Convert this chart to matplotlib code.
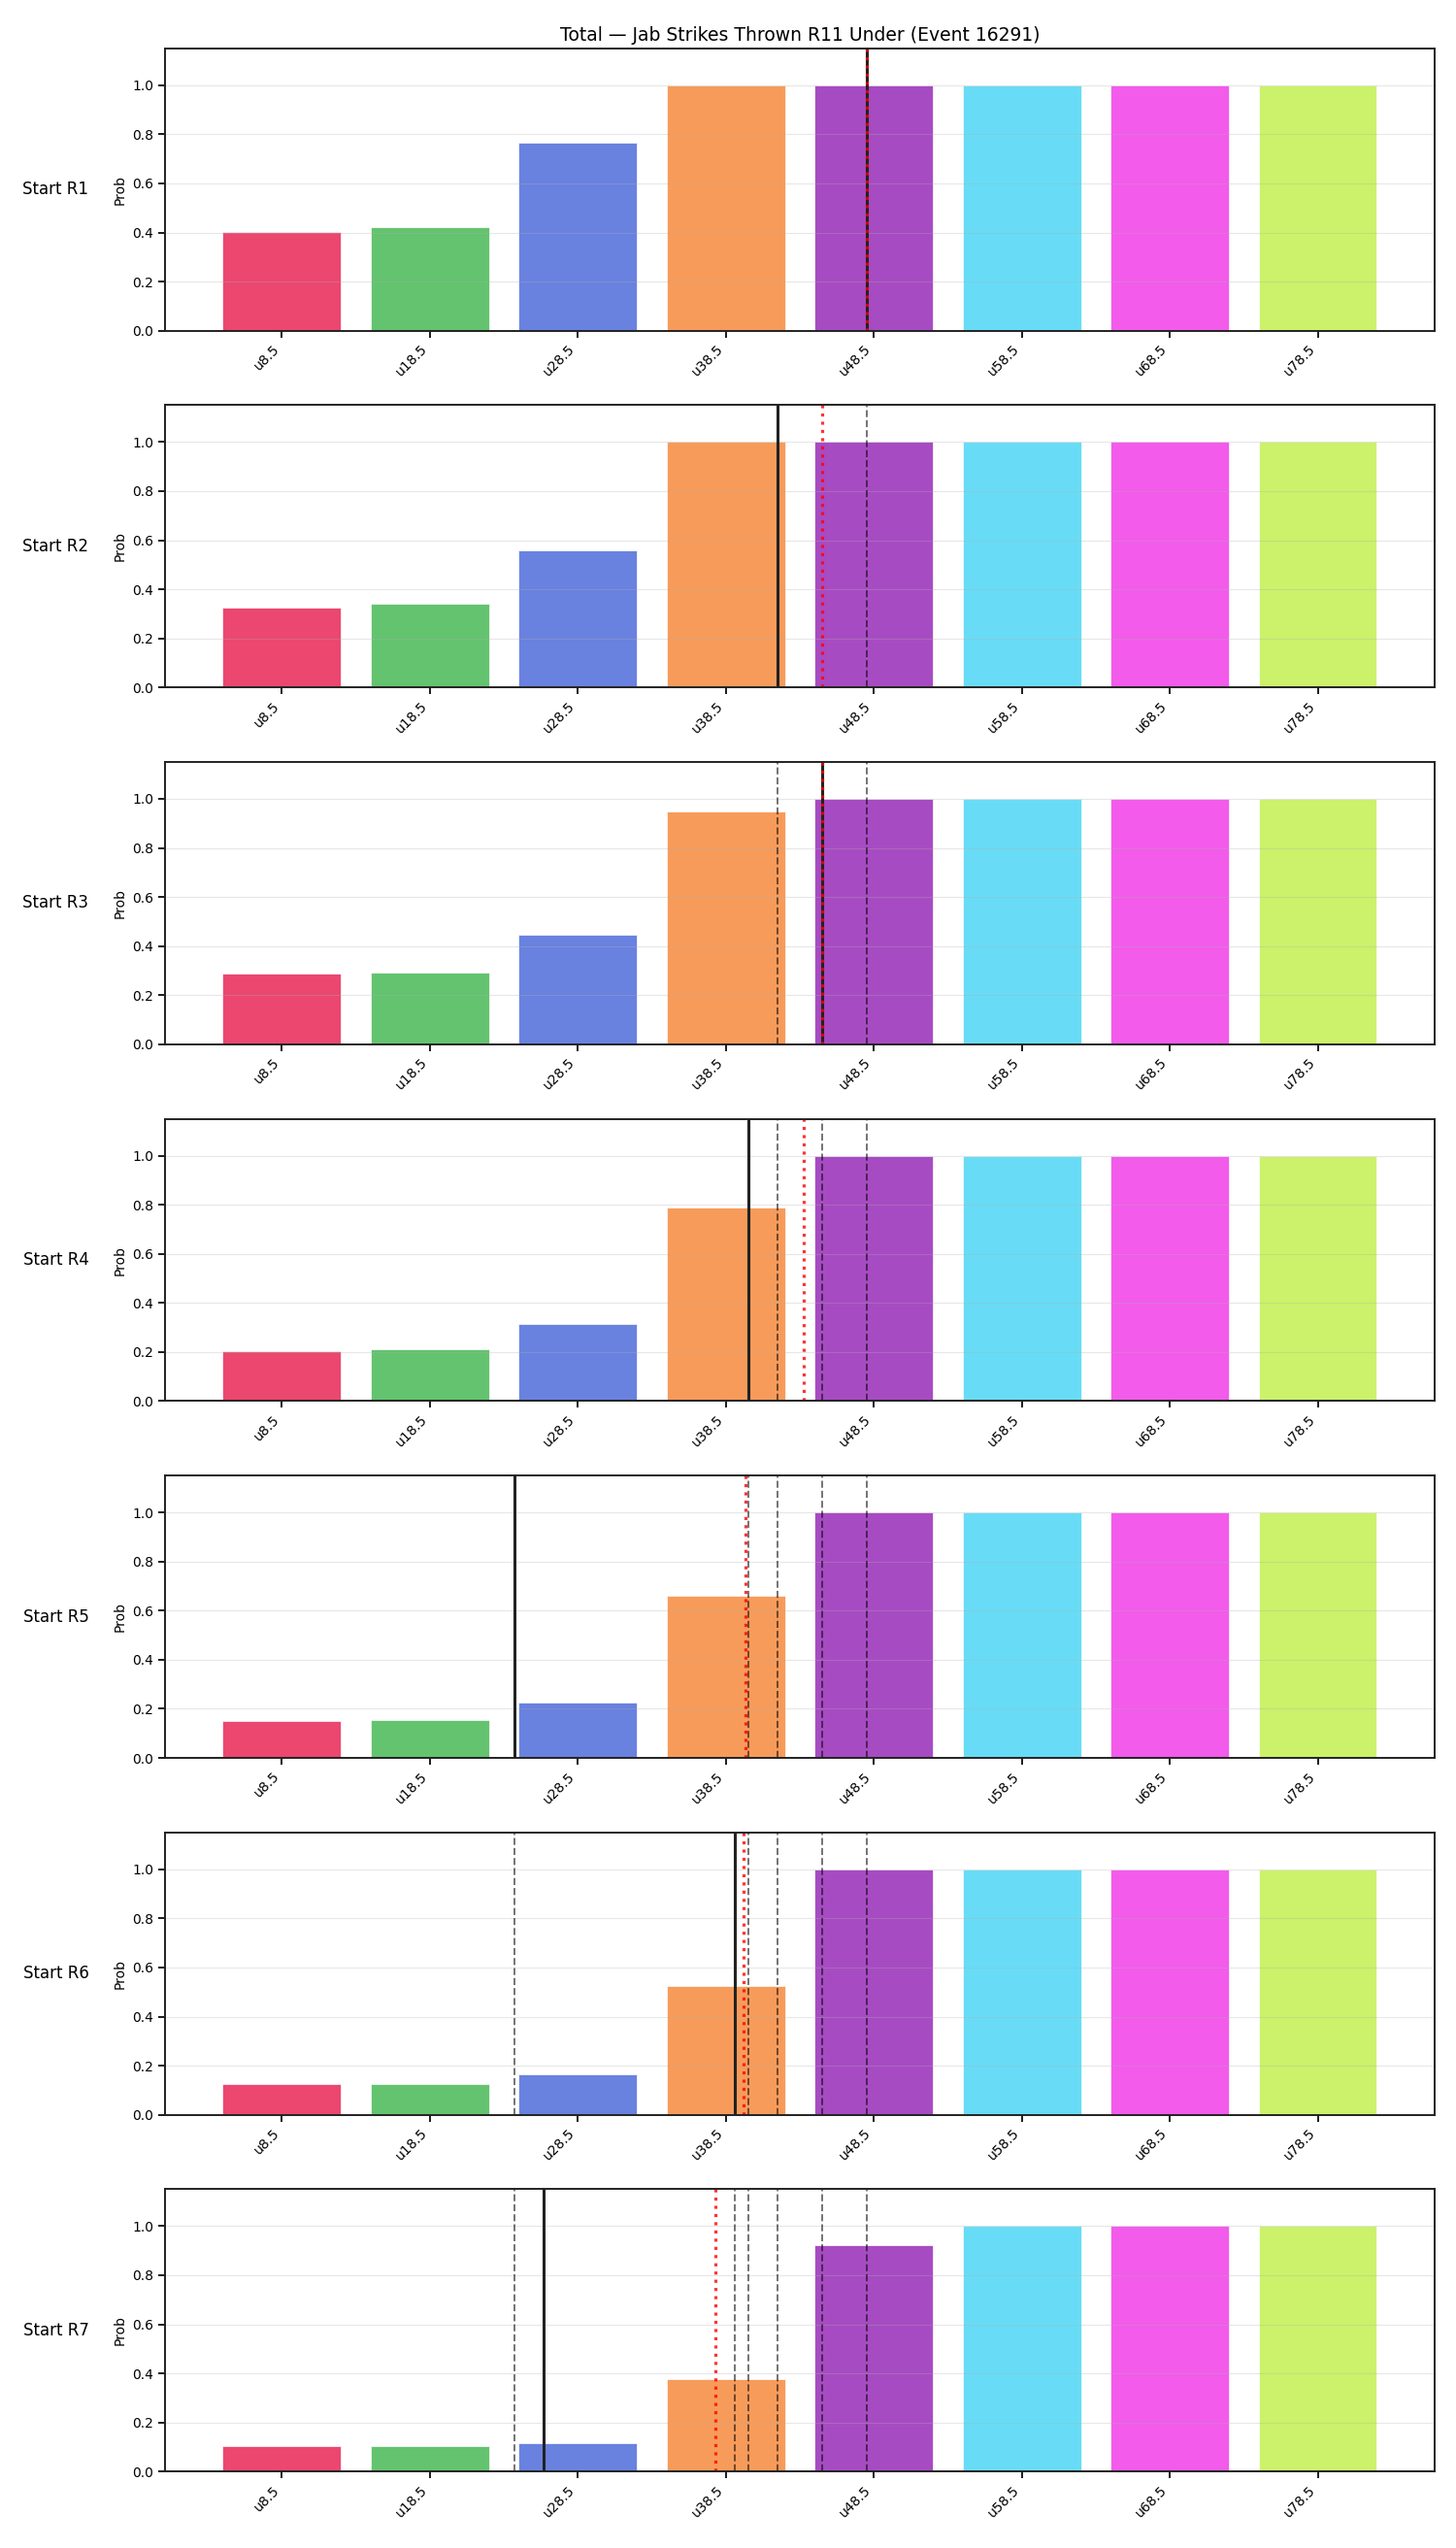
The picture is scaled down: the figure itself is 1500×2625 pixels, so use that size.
import numpy as np
import matplotlib
matplotlib.use("Agg")
import matplotlib.pyplot as plt

# thresholds (under lines) and bar colours
lines = [8.5, 18.5, 28.5, 38.5, 48.5, 58.5, 68.5, 78.5]
labels = ['u8.5', 'u18.5', 'u28.5', 'u38.5', 'u48.5', 'u58.5', 'u68.5', 'u78.5']
colors = ['#e6194b', '#3cb44b', '#4363d8', '#f58231',
          '#911eb4', '#42d4f4', '#f032e6', '#bfef45']

rounds = ['Start R1', 'Start R2', 'Start R3', 'Start R4', 'Start R5', 'Start R6', 'Start R7']

# probability of going under each line, one row per starting round
probs_r1 = [0.403, 0.423, 0.765, 1.0, 1.0, 1.0, 1.0, 1.0]
probs_r2 = [0.327, 0.340, 0.560, 1.0, 1.0, 1.0, 1.0, 1.0]
probs_r3 = [0.288, 0.292, 0.447, 0.948, 1.0, 1.0, 1.0, 1.0]
probs_r4 = [0.204, 0.212, 0.315, 0.790, 1.0, 1.0, 1.0, 1.0]
probs_r5 = [0.149, 0.153, 0.225, 0.660, 1.0, 1.0, 1.0, 1.0]
probs_r6 = [0.125, 0.125, 0.165, 0.525, 1.0, 1.0, 1.0, 1.0]
probs_r7 = [0.102, 0.102, 0.117, 0.375, 0.923, 1.0, 1.0, 1.0]
probs = [probs_r1, probs_r2, probs_r3, probs_r4, probs_r5, probs_r6, probs_r7]

# projected total at the start of each round
projected = [48, 42, 45, 40, 24.2, 39.1, 26.2]

fig, axes = plt.subplots(7, 1, figsize=(15, 26.25), dpi=100)
plt.subplots_adjust(left=0.1133, right=0.9853, top=0.981, bottom=0.030, hspace=0.264)

for i, ax in enumerate(axes):
    ax.bar(lines, probs[i], width=8, color=colors, alpha=0.8,
           edgecolor='white', linewidth=0.6)

    # earlier rounds' projections
    for v in projected[:i]:
        ax.axvline(v, color='k', ls='--', lw=1.4, alpha=0.55)
    ax.axvline(projected[i], color='#222222', lw=2.2)
    ax.axvline(np.mean(projected[:i + 1]), color='red', ls=':', lw=2.3, alpha=0.8)

    ax.set_ylim(0, 1.15)
    ax.set_xticks(lines)
    ax.set_xticklabels(labels, rotation=45, ha='right')
    ax.set_ylabel('Prob')
    ax.grid(axis='y', alpha=0.3)
    ax.tick_params(length=5, width=1.25)
    for s in ax.spines.values():
        s.set_linewidth(1.4)
        s.set_color('#222222')
    ax.text(-0.06, 0.5, rounds[i], transform=ax.transAxes,
            ha='right', va='center', fontsize=12)

axes[0].set_title('Total — Jab Strikes Thrown R11 Under (Event 16291)', fontsize=13.5)

plt.savefig('out.png')
